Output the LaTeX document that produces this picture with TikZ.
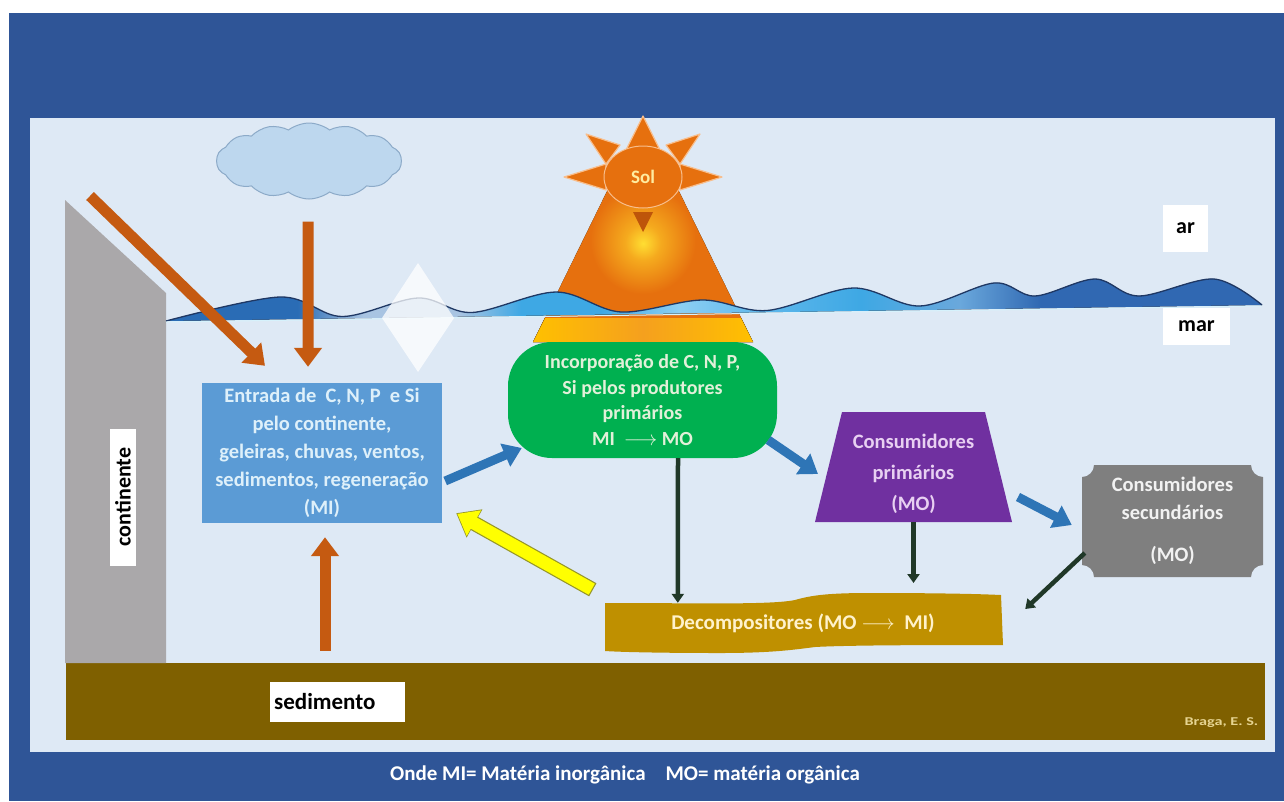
\documentclass[tikz,border=0pt]{standalone}
\usepackage{fontspec}
\setmainfont{Carlito}
\usetikzlibrary{shapes.geometric,shapes.symbols,arrows.meta,calc}

\definecolor{framebg}{RGB}{47,85,151}
\definecolor{panelbg}{RGB}{222,233,245}
\definecolor{sedbrown}{RGB}{127,96,0}
\definecolor{landgray}{RGB}{170,168,170}
\definecolor{orangearr}{RGB}{197,90,17}
\definecolor{bluearr}{RGB}{46,117,182}
\definecolor{darkarr}{RGB}{32,56,40}
\definecolor{cloudfill}{RGB}{189,215,238}
\definecolor{cloudline}{RGB}{140,170,200}
\definecolor{entradabox}{RGB}{91,155,213}
\definecolor{entradatxt}{RGB}{222,240,250}
\definecolor{prodgreen}{RGB}{0,176,80}
\definecolor{prodtxt}{RGB}{226,240,217}
\definecolor{cons1purple}{RGB}{112,48,160}
\definecolor{cons1txt}{RGB}{232,208,242}
\definecolor{cons2gray}{RGB}{127,127,127}
\definecolor{cons2txt}{RGB}{242,242,242}
\definecolor{decompgold}{RGB}{191,144,0}
\definecolor{decomptxt}{RGB}{255,242,204}
\definecolor{sunorange}{RGB}{230,112,14}
\definecolor{sunmid}{RGB}{245,170,30}
\definecolor{sunyellow}{RGB}{255,222,50}
\definecolor{sunrim}{RGB}{248,190,140}
\definecolor{raydark}{RGB}{190,85,10}
\definecolor{solyellow}{RGB}{255,236,160}
\definecolor{bandyellow}{RGB}{255,192,0}
\definecolor{bandorange}{RGB}{245,160,30}
\definecolor{waveline}{RGB}{31,56,100}
\definecolor{yarrowfill}{RGB}{255,255,0}
\definecolor{yarrowline}{RGB}{150,150,40}
\definecolor{credittxt}{RGB}{230,212,145}
\definecolor{wA}{RGB}{42,108,181}
\definecolor{wB}{RGB}{168,196,226}
\definecolor{wC}{RGB}{62,168,228}
\definecolor{wD}{RGB}{140,207,243}
\definecolor{wE}{RGB}{95,184,236}
\definecolor{wF}{RGB}{106,168,220}
\definecolor{wG}{RGB}{48,104,178}

% glow of the light pyramid below the sun
\pgfdeclareradialshading{sunglow}{\pgfpoint{0bp}{-3bp}}{color(0bp)=(sunyellow); color(4bp)=(sunmid); color(12bp)=(sunorange); color(50bp)=(sunorange)}
% colour run of the sea surface, left to right
\pgfdeclarehorizontalshading{wavefill}{100bp}{color(0bp)=(wA); color(31bp)=(wA); color(34bp)=(wB); color(38.4bp)=(wB); color(41.2bp)=(wC); color(44.8bp)=(wC); color(48.4bp)=(wD); color(52.1bp)=(wE); color(56.7bp)=(wC); color(61.2bp)=(wF); color(64.9bp)=(wG); color(100bp)=(wG)}

\begin{document}
\begin{tikzpicture}[x=1pt,y=-1pt,
  lbl/.style={fill=white, text=black, font=\bfseries\fontsize{22}{24}\selectfont, inner sep=0pt},
  boxtxt/.style={align=center, inner sep=0pt},
  bluearrow/.style={draw=bluearr, line width=9pt, -{Triangle[width=24pt,length=18pt]}},
  orangearrow/.style={draw=orangearr, line width=11pt, -{Triangle[width=27pt,length=19pt]}},
  darkarrow/.style={draw=darkarr, line width=4.5pt, -{Triangle[width=12pt,length=9pt]}},
  sunray/.style={fill=sunorange, draw=sunrim, line width=1.2pt, line join=round},
]
\useasboundingbox (0,0) rectangle (1284,801);
\fill[white] (0,0) rectangle (1284,801);
\fill[framebg] (9,13) rectangle (1284,801);
\fill[panelbg] (30,118) rectangle (1275,752);

% sea floor and coast
\node[fill=sedbrown, minimum width=1199pt, minimum height=77pt, inner sep=0pt] (sedband) at (665.5,701.5) {};
\fill[landgray] (65,200) -- (166,293) -- (166,663) -- (65,663) -- cycle;

% cloud
\node[cloud, cloud puffs=14, cloud puff arc=75, aspect=2.6, minimum width=185pt, minimum height=76pt,
      fill=cloudfill, draw=cloudline, line width=1pt] (cloud) at (309,161) {};

% light pyramid
\fill[shading=sunglow] (643,118) -- (753,342) -- (533,342) -- cycle;
\fill[left color=bandyellow, right color=bandyellow, middle color=bandorange]
  (545,318) -- (741,318) -- (753,342) -- (533,342) -- cycle;

% sun and rays
\filldraw[sunray] (643,116) -- (661,152) -- (625,152) -- cycle;
\filldraw[sunray] (586,134) -- (620,145) -- (606,164) -- cycle;
\filldraw[sunray] (700,134) -- (680,164) -- (666,145) -- cycle;
\filldraw[sunray] (564,177) -- (606,164) -- (606,190) -- cycle;
\filldraw[sunray] (722,177) -- (680,164) -- (680,190) -- cycle;
\node[ellipse, minimum width=78pt, minimum height=62pt, fill=sunorange, draw=sunrim, line width=1pt,
      text=solyellow, font=\bfseries\fontsize{19}{22}\selectfont, inner sep=0pt] (sun) at (643,177) {Sol};
\fill[raydark] (633,212) -- (653,212) -- (643,232) -- cycle;

% sea surface
\fill[shading=wavefill] plot[smooth, tension=0.55] coordinates {(166,321) (280,297) (342,316.5) (418,298) (472,312.5) (556,292) (621,312) (702,300) (767,310.5) (853,288) (920,306) (994,283) (1035,296) (1095,279) (1139,296) (1214,279) (1262,305)} -- (166,321) -- cycle;
\draw[waveline, line width=1.3pt] plot[smooth, tension=0.55] coordinates {(166,321) (280,297) (342,316.5) (418,298) (472,312.5) (556,292) (621,312) (702,300) (767,310.5) (853,288) (920,306) (994,283) (1035,296) (1095,279) (1139,296) (1214,279) (1262,305)};
\draw[white!60!cyan!40!white, line width=1pt] (166,322) -- (1262,306);

% ice block
\fill[white, fill opacity=0.75] (418,263) -- (454,318) -- (418,372) -- (382,318) -- cycle;

% ar / mar
\node[lbl, minimum width=45pt, minimum height=47pt] (arlbl) at (1185.5,228.5) {ar};
\node[lbl, minimum width=67pt, minimum height=37pt] (marlbl) at (1196.5,326.5) {mar};

% compartments
\node[fill=entradabox, boxtxt, text=entradatxt, minimum width=240pt, minimum height=140pt,
      font=\bfseries\fontsize{20.5}{28}\selectfont] (entrada) at (322,453)
  {Entrada de\ \ C, N, P\ \ e Si\\pelo continente,\\geleiras, chuvas, ventos,\\sedimentos, regeneração\\(MI)};

\node[fill=prodgreen, rounded corners=44pt, boxtxt, text=prodtxt, minimum width=269pt, minimum height=116pt,
      font=\bfseries\fontsize{20}{25.5}\selectfont] (prod) at (642.5,400)
  {Incorporação de C, N, P,\\Si pelos produtores\\primários\\MI\ \ \(\longrightarrow\)\ MO};

\fill[cons1purple] (842,412) -- (985,412) -- (1012,522) -- (815,522) -- cycle;
\node[boxtxt, text=cons1txt, minimum width=197pt, minimum height=96pt,
      font=\bfseries\fontsize{20.5}{31}\selectfont] (cons1) at (913.5,474) {Consumidores\\primários\\(MO)};

\fill[cons2gray] (1094,465) -- (1251,465) .. controls (1251,471.6) and (1256.4,477) .. (1263,477)
  -- (1263,565) .. controls (1256.4,565) and (1251,570.4) .. (1251,577)
  -- (1094,577) .. controls (1094,570.4) and (1088.6,565) .. (1082,565)
  -- (1082,477) .. controls (1088.6,477) and (1094,471.6) .. (1094,465) -- cycle;
\node[boxtxt, text=cons2txt, minimum width=181pt, minimum height=112pt,
      font=\bfseries\fontsize{20.5}{28}\selectfont] (cons2) at (1172.5,521) {Consumidores\\secundários\\[14pt](MO)};

\fill[decompgold] (605,603) .. controls (700,603) and (770,605) .. (795,600)
  .. controls (812,595) and (830,593) .. (870,593) .. controls (940,593) and (980,594) .. (1001,595)
  -- (1003,645) .. controls (940,645) and (850,645) .. (815,647)
  .. controls (792,650) and (770,653) .. (720,653) .. controls (660,653) and (620,652) .. (605,651) -- cycle;
\node[boxtxt, text=decomptxt, minimum width=396pt, minimum height=58pt,
      font=\bfseries\fontsize{21}{24}\selectfont] (decomp) at (803,623) {Decompositores (MO \(\longrightarrow\)\ \ MI)};

% inputs to the sea
\coordinate (landsrc) at (90,196);
\draw[orangearrow] (landsrc) -- ($(entrada.north)+(-57,-17)$);
\draw[orangearrow] ($(cloud.south)+(-1,22)$) -- ($(entrada.north)+(-14,-16)$);
\draw[orangearrow] ($(sedband.north)+(-340.5,-12)$) -- ($(entrada.south)+(3,14)$);

% food chain
\draw[bluearrow] ($(entrada.east)+(3,28)$) -- ($(prod.west)+(14,48)$);
\draw[bluearrow] ($(prod.east)+(-9,40)$) -- ($(cons1.center)+(-95.5,0)$);
\draw[bluearrow] ($(cons1.center)+(104.5,23)$) -- ($(cons2.west)+(-10,4)$);

% to the decomposers
\draw[darkarrow] ($(prod.south)+(35.5,0)$) -- ($(decomp.north west)+(73,9)$);
\draw[darkarrow] ($(cons1.center)+(0,48)$) -- ($(cons1.center)+(0,109)$);
\draw[darkarrow] ($(cons2.west)+(3,32)$) -- ($(decomp.east)+(24,-14)$);

% regeneration back to the inorganic pool
\draw[yarrowline, line width=15pt, -{Triangle[width=31pt,length=21pt]}]
  ($(decomp.north west)+(-12,-4)$) -- ($(entrada.south east)+(14,-10)$);
\draw[yarrowfill, line width=12.6pt, -{Triangle[width=28pt,length=19pt]}, shorten >=1.3pt, shorten <=1.2pt]
  ($(decomp.north west)+(-12,-4)$) -- ($(entrada.south east)+(14,-10)$);

% labels
\node[lbl, rotate=90, minimum width=137pt, minimum height=26pt] (contlbl) at (123,497) {continente};
\node[lbl, anchor=west, minimum height=40pt, text width=127pt, inner xsep=4pt, align=left,
      font=\bfseries\fontsize{23}{26}\selectfont] (sedlbl) at (270,702) {sedimento};
\node[text=credittxt, anchor=east, xscale=1.35, font=\bfseries\fontsize{12}{14}\selectfont] (credit) at (1263,723) {Braga, E. S.};
\node[text=white, font=\bfseries\fontsize{21}{24}\selectfont] (caption) at (625,775)
  {Onde MI= Matéria inorgânica\hspace{20pt}MO= matéria orgânica};
\end{tikzpicture}
\end{document}
